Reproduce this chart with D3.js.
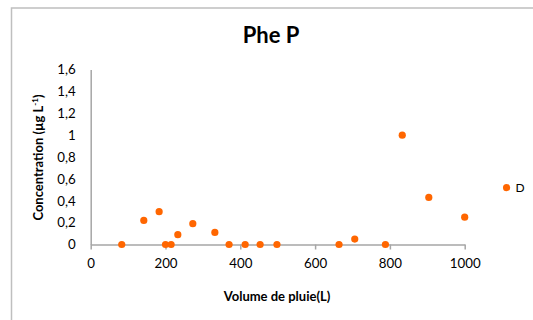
<!DOCTYPE html>
<html>
<head>
<meta charset="utf-8">
<script src="https://cdn.jsdelivr.net/npm/d3@7"></script>
<style>
  html, body { margin: 0; padding: 0; background: #fff; }
  svg { display: block; }
  text { font-family: Lato, "Open Sans", sans-serif; fill: #000; }
</style>
</head>
<body>
<svg id="chart" width="533" height="320"></svg>
<script>
// Data
const volumes = [83, 142, 183, 200, 215, 233, 273, 332, 370, 413, 453, 498, 664, 706, 788, 833, 904, 1000, 1112];
const concentrations = [0, 0.22, 0.30, 0, 0, 0.09, 0.19, 0.11, 0, 0, 0, 0, 0, 0.05, 0, 1.0, 0.43, 0.25, 0.52];
const pointLabels = ["", "", "", "", "", "", "", "", "", "", "", "", "", "", "", "", "", "", "D"];
const xTicks = [0, 200, 400, 600, 800, 1000];
const yTicks = [0, 0.2, 0.4, 0.6, 0.8, 1, 1.2, 1.4, 1.6];
const titleText = "Phe P";
const xTitle = "Volume de pluie(L)";

const svg = d3.select("#chart");

// chart border
svg.append("path")
  .attr("d", "M11.5,320 L11.5,8 L533,8")
  .attr("fill", "none").attr("stroke", "#bfbfbf").attr("stroke-width", 1.5);

const x = d3.scaleLinear().domain([0, 1000]).range([90.7, 464.7]);
const y = d3.scaleLinear().domain([0, 1.6]).range([244.5, 69.5]);

const fmt = d => d3.format("")(d).replace(".", ",");

// x axis
const xAxis = svg.append("g").attr("transform", `translate(0,${y(0)})`)
  .call(d3.axisBottom(x).tickValues(xTicks).tickSize(5).tickSizeOuter(0).tickPadding(9).tickFormat(d => d));
xAxis.select(".domain").attr("stroke", "#a6a6a6").attr("stroke-width", 1.5);
xAxis.selectAll(".tick line").attr("stroke", "#a6a6a6").attr("stroke-width", 1.5);
xAxis.selectAll(".tick text").attr("font-size", 13.3).style("font-family", "Lato, sans-serif").attr("fill", "#000");
xAxis.select(".tick:first-child line").remove();

// y axis
const yAxis = svg.append("g").attr("transform", `translate(${x(0)},0)`)
  .call(d3.axisLeft(y).tickValues(yTicks).tickSize(0).tickPadding(15).tickFormat(fmt));
yAxis.select(".domain").attr("stroke", "#a6a6a6").attr("stroke-width", 1.5);
yAxis.selectAll(".tick text").attr("font-size", 13.3).style("font-family", "Lato, sans-serif").attr("fill", "#000");

// points
const data = volumes.map((v, i) => ({ v, c: concentrations[i], l: pointLabels[i] }));
svg.append("g").selectAll("circle").data(data).join("circle")
  .attr("cx", d => x(d.v)).attr("cy", d => y(d.c)).attr("r", 3.6)
  .attr("fill", "#ff6600");

svg.append("g").selectAll("text").data(data.filter(d => d.l)).join("text")
  .attr("x", d => x(d.v) + 9).attr("y", d => y(d.c)).attr("dy", "0.36em")
  .attr("font-size", 12).text(d => d.l);

// title
svg.append("text").attr("x", 271).attr("y", 43.3).attr("text-anchor", "middle")
  .attr("font-size", 22).attr("font-weight", "bold").text(titleText);

// x title
svg.append("text").attr("x", 277).attr("y", 301).attr("text-anchor", "middle")
  .attr("font-size", 13).attr("font-weight", "bold").text(xTitle);

// y title
const yt = svg.append("text").attr("transform", "translate(42.5,157.5) rotate(-90)")
  .attr("text-anchor", "middle").attr("font-size", 13).attr("font-weight", "bold");
yt.append("tspan").text("Concentration (µg L");
yt.append("tspan").attr("baseline-shift", "super").attr("font-size", 8).text("-1");
yt.append("tspan").text(")");
</script>
</body>
</html>
